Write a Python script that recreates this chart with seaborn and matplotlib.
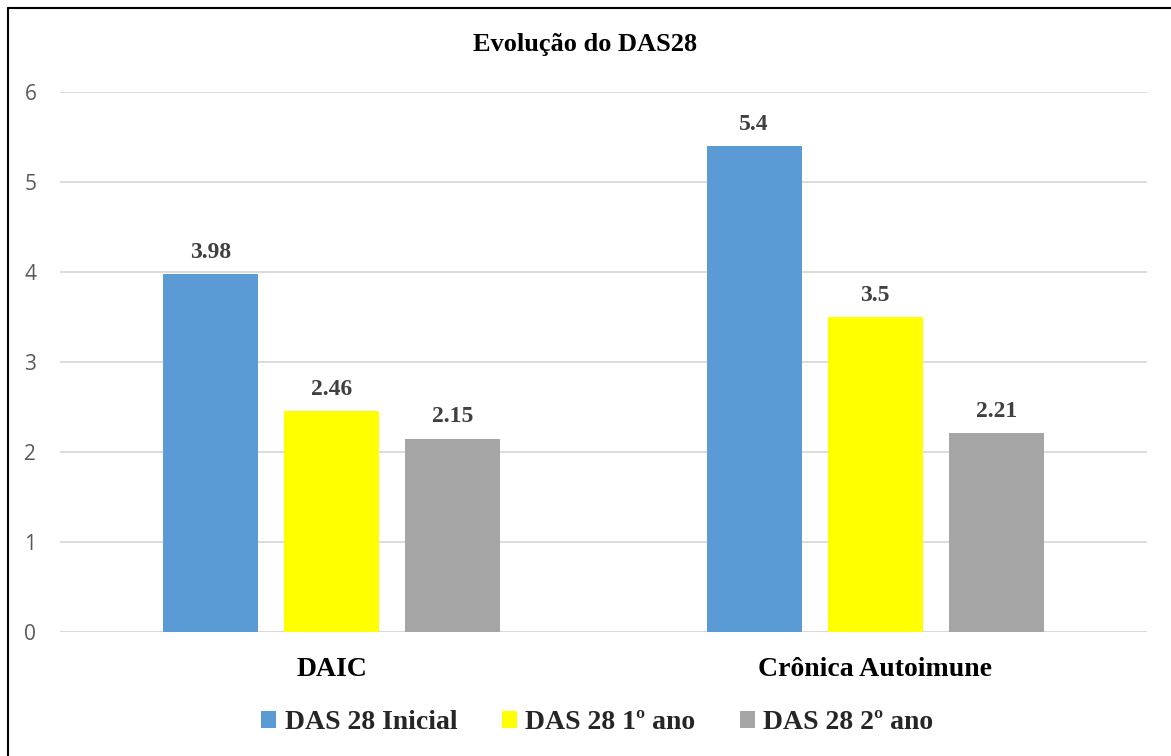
import matplotlib
matplotlib.use("Agg")
import matplotlib.pyplot as plt
import seaborn as sns
import pandas as pd
from matplotlib.lines import Line2D
from matplotlib.patches import Patch

# Data
categories = ["DAIC", "Crônica Autoimune"]
series_names = ["DAS 28 Inicial", "DAS 28 1º ano", "DAS 28 2º ano"]
das_inicial = [3.98, 5.4]
das_ano1 = [2.46, 3.5]
das_ano2 = [2.15, 2.21]
colors = ["#5B9BD5", "#FFFF00", "#A5A5A5"]
title = "Evolução do DAS28"

rows = []
for name, vals in zip(series_names, [das_inicial, das_ano1, das_ano2]):
    for cat, v in zip(categories, vals):
        rows.append({"Grupo": cat, "Série": name, "Valor": v})
df = pd.DataFrame(rows)

sns.set_theme(style="white")
serif = ["Liberation Serif", "DejaVu Serif"]
sans = ["Open Sans", "DejaVu Sans"]

fig = plt.figure(figsize=(11.71, 7.56), dpi=100)
ax = fig.add_axes([0.0512, 0.164, 0.9283, 0.7143])

sns.barplot(data=df, x="Grupo", y="Valor", hue="Série", order=categories,
            hue_order=series_names, palette=colors, width=0.668,
            saturation=1, errorbar=None, legend=False, ax=ax)

# narrow each bar inside its slot to leave gaps between bars
shrink = 95 / 121
for p in ax.patches:
    w = p.get_width()
    p.set_x(p.get_x() + w * (1 - shrink) / 2)
    p.set_width(w * shrink)
    p.set_edgecolor("none")
    p.set_zorder(3)

for cont in ax.containers:
    labels = [f"{v:g}" for v in cont.datavalues]
    ax.bar_label(cont, labels=labels, padding=8, fontsize=17, fontweight="bold",
                 color="#404040", family=serif)

ax.set_ylim(0, 6)
ax.set_xlim(-0.5, 1.5)
ax.set_yticks(range(0, 7))
ax.yaxis.grid(True, color="#D9D9D9", linewidth=1.3, zorder=0)
ax.set_axisbelow(True)
for s in ax.spines.values():
    s.set_visible(False)
ax.axhline(0, color="#D9D9D9", linewidth=1.5, zorder=2)
ax.tick_params(axis="y", length=0, pad=17, labelsize=15, labelcolor="#595959")
for t in ax.get_yticklabels():
    t.set_family(sans)
ax.tick_params(axis="x", length=0, pad=18)
for t in ax.get_xticklabels():
    t.set_family(serif)
    t.set_fontsize(20)
    t.set_fontweight("bold")
    t.set_color("black")
ax.set_xlabel("")
ax.set_ylabel("")

fig.text(0.5, 0.9405, title, ha="center", va="center", fontsize=19,
         fontweight="bold", family=serif, color="black")

handles = [Patch(facecolor=c, edgecolor="none") for c in colors]
fig.legend(handles, series_names, loc="center", bbox_to_anchor=(0.51, 0.044),
           ncol=3, frameon=False, handlelength=0.55, handleheight=0.55,
           handletextpad=0.3, columnspacing=1.6,
           prop={"family": serif, "size": 20, "weight": "bold"})

# outer frame (top and left edges)
fig.add_artist(Line2D([0.0065, 0.0065], [0, 0.9895], transform=fig.transFigure,
                      color="black", linewidth=1.5))
fig.add_artist(Line2D([0.0065, 1.0], [0.9895, 0.9895], transform=fig.transFigure,
                      color="black", linewidth=1.5))

fig.savefig("out.png", dpi=100)
